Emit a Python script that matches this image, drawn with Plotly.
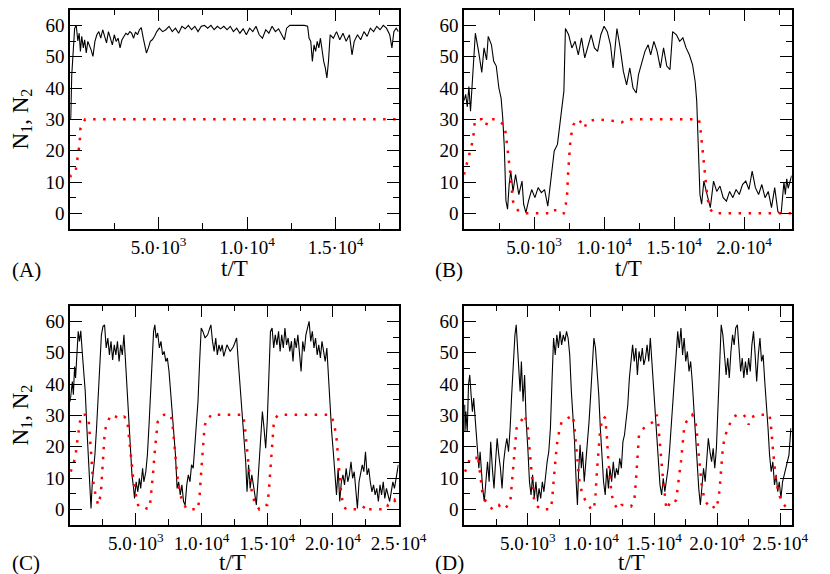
import plotly.graph_objects as go

# ---------------- data ----------------
# Panel A
tA_n1 = [0, 36, 90, 180, 255, 345, 435, 510, 580, 655, 745, 820, 910, 1000, 1090, 1185, 1290, 1400, 1510, 1620,
         1730, 1840, 1950, 2055, 2165, 2275, 2385, 2495, 2600, 2710, 2820, 2930, 3040, 3150, 3260, 3370, 3475, 3585,
         3695, 3805, 3915, 4020, 4130, 4220, 4310, 4420, 4530, 4640, 4770, 4895, 5040, 5225, 5405, 5590, 5770, 5950,
         6130, 6315, 6500, 6680, 6860, 7045, 7225, 7410, 7590, 7770, 7955, 8135, 8320, 8500, 8680, 8865, 9045, 9225,
         9410, 9590, 9775, 9955, 10140, 10320, 10500, 10680, 10865, 11050, 11230, 11410, 11595, 11775, 11955, 12105,
         12230, 12410, 12685, 12960, 13230, 13415, 13500, 13595, 13685, 13780, 13870, 13960, 14050, 14140, 14230,
         14325, 14415, 14505, 14595, 14690, 14870, 15050, 15235, 15415, 15595, 15780, 15925, 16050, 16235, 16415,
         16600, 16780, 16960, 17145, 17325, 17510, 17690, 17870, 18055, 18180, 18290, 18420, 18545]
nA_n1 = [30, 30.5, 44, 55, 59, 60, 55, 57.5, 51.7, 56.5, 52.8, 55.4, 51.2, 54.9, 53.8, 52.2, 50.1, 54.9, 57, 58,
         55.9, 58.6, 56.5, 54.4, 58, 55.4, 53.8, 57, 54.9, 55.9, 52.8, 55.4, 56.5, 57.5, 57, 58, 57.5, 55.9,
         57.9, 57, 58.6, 59.3, 55.9, 53.8, 51.2, 52.8, 54.9, 55.4, 56.5, 58, 59.1, 58, 58.6, 59.7, 58, 59.1,
         57.5, 59.7, 58.9, 60, 58.6, 59.7, 58, 59.7, 60, 59.1, 60, 58.6, 59.7, 58.9, 59.7, 58.6, 59.7, 58,
         59.1, 57.5, 58.9, 57, 59.1, 58, 59.7, 57, 55.9, 58.6, 57.5, 59.7, 58, 58.9, 57, 55.4,
         59.1, 60, 60, 60, 60, 59.7, 55.9, 54.9, 48.5, 53.8, 51.7, 54.9, 52.8, 55.9, 51.7,
         48.5, 46.4, 43.2, 48.5, 57, 55.9, 58, 55.4, 57.5, 54.9, 57, 50.6, 54.9, 57, 55.4,
         58, 56.5, 59.1, 58, 59.7, 58.6, 60, 59.1, 57, 52.8, 58, 59.1, 58]
tA_n2 = [0, 40, 300, 360, 450, 540, 580, 700, 850, 18560]
nA_n2 = [11.5, 12, 13, 15.5, 20, 22.5, 27, 28.7, 30, 30]

# Panel B
tB_n1 = [0, 115, 230, 345, 460, 575, 805, 1035, 1265, 1425, 1610, 1725, 1955, 2115, 2300, 2485, 2645, 2760, 2875,
         2990, 3105, 3220, 3335, 3495, 3680, 3910, 4140, 4255, 4415, 4600, 4830, 5060, 5290, 5520, 5750, 5980,
         6210, 6440, 6670, 6900, 7130, 7240, 7470, 7700, 7930, 8160, 8390, 8620, 8850, 9080, 9310, 9540, 9770,
         10000, 10230, 10460, 10645, 10805, 10920, 11150, 11380, 11610, 11840, 12070, 12300, 12460, 12690, 12920,
         13150, 13330, 13560, 13790, 14020, 14250, 14480, 14710, 14900, 15170, 15400, 15630, 15860, 16090, 16320,
         16510, 16620, 16740, 16850, 16970, 17130, 17360, 17590, 17820, 18050, 18280, 18510, 18740, 18970, 19200,
         19430, 19660, 19890, 20120, 20350, 20580, 20810, 21040, 21270, 21500, 21730, 21960, 22190, 22420, 22550,
         22650, 22750, 22850, 22950, 23050, 23150, 23250, 23400]
nB_n1 = [36, 38, 34, 40.5, 32.6, 40, 57.5, 51.7, 45, 52.8, 49, 56.5, 53.8, 48.5, 47, 40, 36.8, 30.5, 21,
         4, 1.3, 9.2, 13.5, 7, 12.4, 6, 10.3, 2.9, 0.2, 3.9, 7.6, 5, 8.2, 6.6, 7.6, 2.3,
         10.3, 19.9, 22, 30.5, 39, 59, 57, 52.8, 54.9, 50.6, 56, 49.6, 53.8, 57, 52.8, 51.7, 57,
         59.7, 58, 53.8, 46.4, 54.9, 59, 52.8, 45.3, 41, 46.4, 40, 38.4, 44.3, 48.5, 51.7,
         53.8, 50.6, 54.9, 51.7, 46.4, 52.8, 47, 45.9, 58, 57, 54.9, 56, 52.8, 50.6, 47.5,
         42, 35.8, 23, 6, 2.9, 10.3, 6, 1.8, 10.3, 7, 8.7, 5, 3.9, 7, 5,
         7.6, 6, 9.2, 10.3, 7.6, 13.5, 8.2, 6, 9.2, 5, 7, 1.8, 8.2, 0.5, 0,
         0, 6, 10, 6, 11, 8, 10, 12]
tB_n2 = [0, 115, 275, 460, 645, 760, 920, 1265, 1425, 1565, 1725, 2300, 2575, 2875, 2990, 3105, 3220, 3310, 3400,
         3495, 3680, 3910, 4370, 6210, 6320, 6670, 6900, 7130, 7265, 7360, 7425, 7520, 7590, 7700, 7820, 8050,
         8390, 8620, 8740, 8970, 9430, 10920, 11270, 11500, 16780, 16900, 17010, 17130, 17240, 17360, 17470,
         17590, 17820, 23400]
nB_n2 = [12.4, 14.5, 17, 20, 23.6, 29, 30, 30, 29, 28, 30, 30, 29, 28.3, 25, 21, 16.7, 12.4, 8.2,
         3.9, 1.8, 0.7, 0, 0, 1, 1, 0, 0, 2.9, 6, 12.4, 18.8, 23, 26.2, 28.3, 30,
         29, 27.3, 29, 29.5, 30, 29.4, 29, 30, 30, 26.2, 21, 14.5, 9.2, 6, 2.9,
         1.3, 0, 0]

# Panel C
tC_n1 = [0, 100, 170, 245, 340, 415, 515, 615, 710, 810, 955, 1150, 1275, 1400, 1520, 1590, 1690, 1790, 1885, 2010,
         2130, 2255, 2380, 2500, 2620, 2745, 2870, 2990, 3110, 3235, 3360, 3480, 3600, 3725, 3850, 3970, 4095,
         4215, 4340, 4460, 4580, 4705, 4830, 4900, 5025, 5150, 5270, 5370, 5515, 5610, 5760, 5880, 6005, 6130,
         6250, 6350, 6445, 6545, 6665, 6790, 6910, 7035, 7155, 7280, 7400, 7525, 7645, 7770, 7890, 8015, 8140,
         8260, 8380, 8505, 8630, 8750, 8875, 8995, 9120, 9240, 9365, 9485, 9610, 9730, 9855, 9975, 10100, 10270,
         10465, 10710, 10835, 10955, 11080, 11200, 11325, 11445, 11570, 11690, 11935, 12180, 12430, 12670, 12795,
         12915, 13040, 13210, 13360, 13460, 13580, 13700, 13825, 13945, 14070, 14170, 14290, 14410, 14535, 14630,
         14755, 14880, 15000, 15120, 15245, 15370, 15490, 15610, 15735, 15860, 15980, 16100, 16225, 16345, 16470,
         16590, 16715, 16840, 16960, 17085, 17205, 17330, 17450, 17575, 17700, 17820, 17940, 18065, 18185, 18310,
         18430, 18555, 18675, 18800, 18920, 19045, 19165, 19290, 19410, 19535, 19655, 19780, 19900, 20025, 20145,
         20270, 20395, 20515, 20640, 20760, 20880, 21005, 21130, 21250, 21375, 21495, 21620, 21740, 21860, 21985,
         22105, 22230, 22350, 22475, 22600, 22720, 22840, 22965, 23090, 23210, 23335, 23455, 23580, 23700, 23825,
         23945, 24070, 24190, 24315, 24435, 24560, 24680, 24805, 24975]
nC_n1 = [34.4, 37.6, 40.8, 36.6, 45.6, 41.9, 51.5, 56.8, 53.6, 57, 48.3, 37.6, 25.9, 15.2, 2.5, 0.3, 8.8, 13.1, 17.4, 25.9,
         36.6, 48.3, 55.7, 58.4, 58.9, 51.5, 54.7, 49.3, 53.6, 47.7, 52.5, 49.3, 53.6, 47.2, 52.5, 49.3, 55.7,
         47.2, 38.7, 30.2, 22.7, 11, 6.7, 3.5, 8.8, 5.6, 9.9, 6.7, 13.1, 8.8, 12, 17.4, 27, 36.6,
         47.2, 56.8, 58.9, 54.7, 56.3, 51.5, 53.6, 49.3, 50.4, 47.2, 48.3, 44, 37.6, 31.2, 23.8, 17.4, 6.7,
         8.8, 4.6, 7.8, 2.5, 1.4, 7.8, 11, 8.8, 14.2, 13.1, 19.5, 25.9, 34.4, 47.2, 57.9, 56.8, 54.7,
         55.7, 58.9, 53.6, 50.4, 54.7, 49.3, 52.5, 50.4, 52.5, 48.8, 52.5, 50.4, 52, 54.7, 47.2,
         40.8, 33.4, 23.8, 15.2, 5.6, 14.2, 6.7, 11, 7.8, 4.6, 1.4, 8.8, 17.4, 25.9, 31.2,
         25.9, 19.5, 28, 42.9, 56.8, 57.9, 51.5, 55.7, 52.5, 56.8, 50.4, 55.7, 51.5, 57.9, 52.5,
         54.7, 50.4, 53.6, 47.2, 54.7, 51.5, 55.7, 49.3, 44, 53.6, 50.4, 55.7, 57.9, 60, 53.6,
         56.8, 51.5, 54.7, 49.3, 52.5, 48.3, 53.6, 50.4, 47.2, 51.5, 41.9, 33.4, 24.8, 18.4, 11,
         4.6, 13.1, 2.5, 8.8, 11, 7.8, 13.1, 8.8, 11, 15.2, 9.9, 12, 4.6, 0.3, 8.8,
         11, 14.2, 12, 18.4, 11, 13.1, 8.8, 5.6, 7.8, 4.6, 6.7, 2.5, 7.8, 4.6, 8.8,
         3.5, 6.7, 4.6, 2.5, 5.6, 8.8, 6.7, 9.9, 14.2]
tC_n2 = [50, 170, 295, 415, 540, 660, 785, 905, 1150, 1400, 1520, 1590, 1690, 1790, 1935, 2130, 2330, 2425, 2525,
         2620, 2745, 2915, 3110, 3480, 3725, 4095, 4340, 4460, 4580, 4705, 4830, 4950, 5195, 5565, 5810, 6055,
         6175, 6300, 6420, 6545, 6665, 6910, 7155, 7645, 7770, 7890, 8015, 8140, 8260, 8380, 8630, 8875, 9730,
         9855, 9975, 10100, 10220, 10345, 10590, 10710, 13160, 13285, 13405, 13530, 13650, 13825, 14020, 14390,
         14755, 15000, 15120, 15245, 15370, 15490, 15610, 15860, 19780, 19900, 20025, 20145, 20270, 20395, 20515,
         20640, 20810, 21005, 22230, 22475, 22720, 24070, 24190, 24435, 24680, 24805, 24975]
nC_n2 = [12, 14.2, 15.2, 17.4, 21.6, 25.9, 29.1, 30.2, 30.2, 29.1, 23.8, 18.4, 12, 7.8, 4.6, 1.4, 4.6, 11, 18.4,
         23.8, 27, 28.6, 30.2, 29.6, 28.9, 29.6, 28.9, 23.8, 18.4, 13.1, 8.8, 5.6, 0.9, 0.9, 0.3, 0.3,
         4.6, 11, 17.4, 23.8, 28, 29.6, 30.2, 30.2, 28, 22.7, 16.3, 11, 7.8, 4.6, 1.9, 0, 0,
         4.6, 12, 19.5, 25.9, 28.6, 29.1, 30.2, 30.2, 27, 21.6, 15.2, 11, 5.6, 2.5, 0,
         1.4, 1.4, 5.6, 13.1, 21.6, 27, 29.1, 30.2, 30.2, 29.6, 28, 25.9, 22.7, 17.4, 11,
         4.6, 0.9, 0, 0, 1.4, 0, 0, 1.4, 1.9, 3, 1.4, 0.3]

# Panel D
tD_n1 = [0, 20, 95, 200, 300, 400, 505, 610, 710, 810, 910, 1015, 1120, 1220, 1320, 1420, 1550, 1680, 1807, 1935,
         2060, 2190, 2320, 2445, 2570, 2700, 2830, 2960, 3085, 3210, 3340, 3470, 3600, 3720, 3850, 3980, 4080,
         4180, 4285, 4390, 4490, 4620, 4745, 4870, 5000, 5130, 5255, 5380, 5510, 5640, 5770, 5890, 6020, 6150,
         6275, 6405, 6530, 6660, 6790, 6915, 7040, 7170, 7300, 7425, 7550, 7680, 7810, 7935, 8065, 8190, 8320,
         8450, 8575, 8700, 8830, 8930, 9035, 9140, 9240, 9340, 9470, 9600, 9725, 9850, 9980, 10110, 10235, 10360,
         10490, 10620, 10745, 10875, 11000, 11130, 11255, 11385, 11510, 11640, 11770, 11895, 12025, 12150, 12280,
         12410, 12535, 12660, 12790, 12920, 13045, 13170, 13300, 13430, 13560, 13680, 13810, 13940, 14070, 14190,
         14320, 14450, 14580, 14705, 14830, 14960, 15090, 15220, 15340, 15470, 15600, 15730, 15855, 15980, 16110,
         16240, 16365, 16490, 16620, 16750, 16875, 17000, 17130, 17260, 17385, 17510, 17640, 17770, 17900, 18025,
         18150, 18280, 18410, 18540, 18670, 18800, 18920, 19050, 19175, 19300, 19430, 19560, 19685, 19810, 19940,
         20070, 20200, 20320, 20450, 20580, 20710, 20835, 20960, 21090, 21220, 21345, 21470, 21600, 21730, 21860,
         21985, 22110, 22240, 22370, 22495, 22620, 22750, 22880, 23010, 23130, 23260, 23390, 23515, 23640, 23770,
         23900, 24030, 24150, 24280, 24410, 24540, 24670, 24800, 24920, 25050, 25180, 25300, 25430, 25560, 25690,
         25840]
nD_n1 = [33.4, 24.8, 31.2, 24.8, 39.8, 42.9, 36.6, 31.2, 35.5, 30.2, 25.9, 20.6, 13.1, 18.4, 11, 6.7, 2.5, 8.8, 15.2, 8.8,
         21.6, 13.1, 6.7, 15.2, 22.7, 17.4, 13.1, 6.7, 15.2, 19.5, 22.7, 18.4, 25.9, 36.6, 47.2, 55.7, 58.9,
         52.5, 44, 37.6, 47.2, 34.4, 42.9, 28, 19.5, 8.8, 4.6, 11, 3.5, 8.8, 2.5, 6.7, 3.5, 8.8,
         5.6, 11, 15.2, 18.4, 25.9, 40.8, 54.7, 49.3, 55.7, 51.5, 56.8, 52.5, 55.7, 53.6, 56.8, 54.7, 49.3,
         37.6, 30.2, 21.6, 8.8, 1.4, 13.1, 20.6, 13.1, 18.4, 8.8, 15.2, 20.6, 28, 36.6, 47.2, 54.7, 51.5,
         45, 36.6, 25.9, 17.4, 8.8, 4.6, 13.1, 6.7, 13.1, 8.8, 15.2, 9.9, 13.1, 11, 16.3,
         13.1, 21.6, 23.8, 28, 33.4, 41.9, 48.3, 52.5, 47.2, 51.5, 42.9, 50.4, 47.2, 51.5, 46.1,
         48.3, 52.5, 47.2, 54.7, 47.2, 40.8, 33.4, 25.9, 17.4, 7.8, 4.6, 9.9, 5.6, 8.8, 13.1,
         19.5, 25.9, 33.4, 41.9, 49.3, 56.8, 51.5, 57.9, 49.3, 54.7, 47.2, 50.4, 44, 47.2, 40.8,
         32.3, 23.8, 15.2, 6.7, 1.4, 6.7, 13.1, 8.8, 15.2, 22.7, 18.4, 15.2, 19.5, 13.1, 19.5,
         33.4, 48.3, 58.9, 55.7, 49.3, 42.9, 48.3, 41.9, 50.4, 55.7, 52.5, 57.9, 58.9, 51.5, 44,
         48.3, 41.9, 47.2, 42.9, 48.3, 44, 52.5, 56.8, 49.3, 40.8, 49.3, 54.7, 47.2, 49.3, 40.8,
         34.4, 25.9, 17.4, 12, 15.2, 7.8, 11, 5.6, 8.8, 3.5, 8.8, 11, 13.1, 15.2, 17.4,
         25.9]
tD_n2 = [20, 150, 275, 400, 660, 910, 1040, 1170, 1300, 1420, 1680, 1935, 2190, 2445, 2700, 2960, 3340, 3600, 3720,
         3850, 3980, 4110, 4230, 4440, 4620, 4745, 4870, 5000, 5130, 5255, 5380, 5510, 5770, 6020, 6790, 6915,
         7040, 7170, 7300, 7425, 7550, 7680, 7935, 8320, 8575, 8700, 8830, 8960, 9090, 9340, 9600, 9850, 9980,
         10235, 10360, 10490, 10620, 10745, 10875, 11000, 11130, 11255, 11385, 11510, 11640, 11895, 12150, 12410,
         12790, 13170, 13430, 13560, 13680, 13810, 14070, 14320, 14580, 14960, 15220, 15340, 15470, 15600, 15730,
         15855, 15980, 16240, 16490, 16750, 16875, 17000, 17130, 17260, 17385, 17565, 17770, 18025, 18280, 18410,
         18540, 18670, 18800, 19050, 19300, 19560, 19810, 20070, 20200, 20320, 20450, 20580, 20835, 21090, 21345,
         21600, 22110, 22370, 22495, 22620, 22880, 23130, 24150, 24280, 24410, 24540, 24670, 24920, 25180, 25430,
         25690]
nD_n2 = [12, 13.1, 14.2, 16.3, 16.3, 16.3, 17.4, 13.1, 8.8, 4.6, 2.5, 1.4, 0, 0.9, 1.4, 0, 0.9, 1.9, 7.8,
         15.2, 21.6, 25.9, 27, 28, 29.1, 30.2, 28.5, 25.9, 19.5, 13.1, 6.7, 2.5, 0.9, 0, 0, 2.5,
         8.8, 15.2, 20.6, 23.8, 25.9, 28, 28.6, 29.6, 30, 25.9, 19.5, 13.1, 8.8, 4.6, 2.5, 1.4, 0,
         0, 4.6, 13.1, 20.6, 25.9, 28, 29.6, 29.1, 23.8, 15.2, 8.8, 4.6, 1.4, 0, 1.4,
         1.4, 0.9, 2.5, 8.8, 17.4, 23.8, 25.4, 26.4, 27, 28, 30.2, 27, 20.6, 13.1, 8.8,
         4.6, 0, 1.9, 1.4, 3, 6.7, 11, 15.2, 20.6, 25.9, 28, 29.1, 30.2, 28, 23.8,
         17.4, 11, 6.7, 2.5, 1.4, 1.9, 0, 2.5, 6.7, 13.1, 19.5, 22.7, 25.9, 28, 29.6,
         30.2, 30.2, 28.6, 27, 29.1, 29.6, 30.2, 30.2, 25.9, 19.5, 13.1, 8.8, 4.6, 1.9, 0.9,
         0]

# tick labels
xtick_vals_A = [5000, 10000, 15000]
xtick_text_A = ["5.0·10<sup>3</sup>", "1.0·10<sup>4</sup>", "1.5·10<sup>4</sup>"]
xtick_vals_B = [5000, 10000, 15000, 20000]
xtick_text_B = ["5.0·10<sup>3</sup>", "1.0·10<sup>4</sup>", "1.5·10<sup>4</sup>", "2.0·10<sup>4</sup>"]
xtick_vals_CD = [5000, 10000, 15000, 20000, 25000]
xtick_text_CD = ["5.0·10<sup>3</sup>", "1.0·10<sup>4</sup>", "1.5·10<sup>4</sup>", "2.0·10<sup>4</sup>",
                 "2.5·10<sup>4</sup>"]
xminor_vals = [2500, 7500, 12500, 17500, 22500]
panel_labels = ["(A)", "(B)", "(C)", "(D)"]
x_title = "t/T"
y_title = "N<sub>1</sub>, N<sub>2</sub>"

# ---------------- figure ----------------
FONT = "Liberation Serif, Times New Roman, DejaVu Serif, serif"
W, H = 830, 574

fig = go.Figure()
panels = [
    (tA_n1, nA_n1, tA_n2, nA_n2, "x", "y"),
    (tB_n1, nB_n1, tB_n2, nB_n2, "x2", "y2"),
    (tC_n1, nC_n1, tC_n2, nC_n2, "x3", "y3"),
    (tD_n1, nD_n1, tD_n2, nD_n2, "x4", "y4"),
]
for t1, n1, t2, n2, xa, ya in panels:
    fig.add_trace(go.Scatter(x=t1, y=n1, mode="lines", xaxis=xa, yaxis=ya,
                             line=dict(color="black", width=1.1), hoverinfo="skip"))
    fig.add_trace(go.Scatter(x=t2, y=n2, mode="lines", xaxis=xa, yaxis=ya,
                             line=dict(color="#ff0000", width=2.5, dash="2.5px,7.5px"), hoverinfo="skip"))


def xaxis(domain, rng, vals, text, anchor):
    return dict(domain=domain, range=rng, anchor=anchor, tickmode="array", tickvals=vals, ticktext=text,
                showline=True, linecolor="black", linewidth=1.5, mirror="allticks",
                ticks="inside", ticklen=12, tickwidth=1, tickcolor="black",
                showgrid=False, zeroline=False,
                tickfont=dict(family=FONT, size=19, color="black"),
                minor=dict(tickmode="array", tickvals=xminor_vals, ticks="inside", ticklen=6,
                           tickwidth=1, tickcolor="black", showgrid=False))


def yaxis(domain, anchor):
    return dict(domain=domain, range=[-5, 65], anchor=anchor, tickmode="linear", tick0=0, dtick=10,
                showline=True, linecolor="black", linewidth=1.5, mirror="allticks",
                ticks="inside", ticklen=12, tickwidth=1, tickcolor="black",
                showgrid=False, zeroline=False,
                tickfont=dict(family=FONT, size=19, color="black"),
                minor=dict(dtick=5, ticks="inside", ticklen=6, tickwidth=1, tickcolor="black", showgrid=False))


xL = [64.3 / W, 404.3 / W]
xR = [472 / W, 811 / W]
yT = [1 - 221 / H, 1 - 1.7 / H]
yB = [1 - 517 / H, 1 - 297.7 / H]

ann = []
for lab, px, py in zip(panel_labels, [2, 440, 2, 440], [262, 262, 555, 555]):
    ann.append(dict(text=lab, x=px / W, y=1 - py / H, xref="paper", yref="paper", xanchor="left",
                    yanchor="middle", showarrow=False, font=dict(family=FONT, size=21, color="black")))
for px, py in [(234, 261), (642, 261), (232, 554), (645, 554)]:
    ann.append(dict(text=x_title, x=px / W, y=1 - py / H, xref="paper", yref="paper", xanchor="center",
                    yanchor="middle", showarrow=False, font=dict(family=FONT, size=23, color="black")))
for py in [111, 407]:
    ann.append(dict(text=y_title, x=14 / W, y=1 - py / H, xref="paper", yref="paper", xanchor="center",
                    yanchor="middle", textangle=-90, showarrow=False,
                    font=dict(family=FONT, size=23, color="black")))

fig.update_layout(
    width=W, height=H, margin=dict(l=0, r=0, t=0, b=0, pad=0),
    paper_bgcolor="white", plot_bgcolor="white", showlegend=False,
    font=dict(family=FONT, color="black"),
    xaxis=xaxis(xL, [0, 18560], xtick_vals_A, xtick_text_A, "y"),
    yaxis=yaxis(yT, "x"),
    xaxis2=xaxis(xR, [0, 23400], xtick_vals_B, xtick_text_B, "y2"),
    yaxis2=yaxis(yT, "x2"),
    xaxis3=xaxis(xL, [0, 25000], xtick_vals_CD, xtick_text_CD, "y3"),
    yaxis3=yaxis(yB, "x3"),
    xaxis4=xaxis(xR, [-50, 25900], xtick_vals_CD, xtick_text_CD, "y4"),
    yaxis4=yaxis(yB, "x4"),
    annotations=ann,
)
fig.write_html("out.html")
